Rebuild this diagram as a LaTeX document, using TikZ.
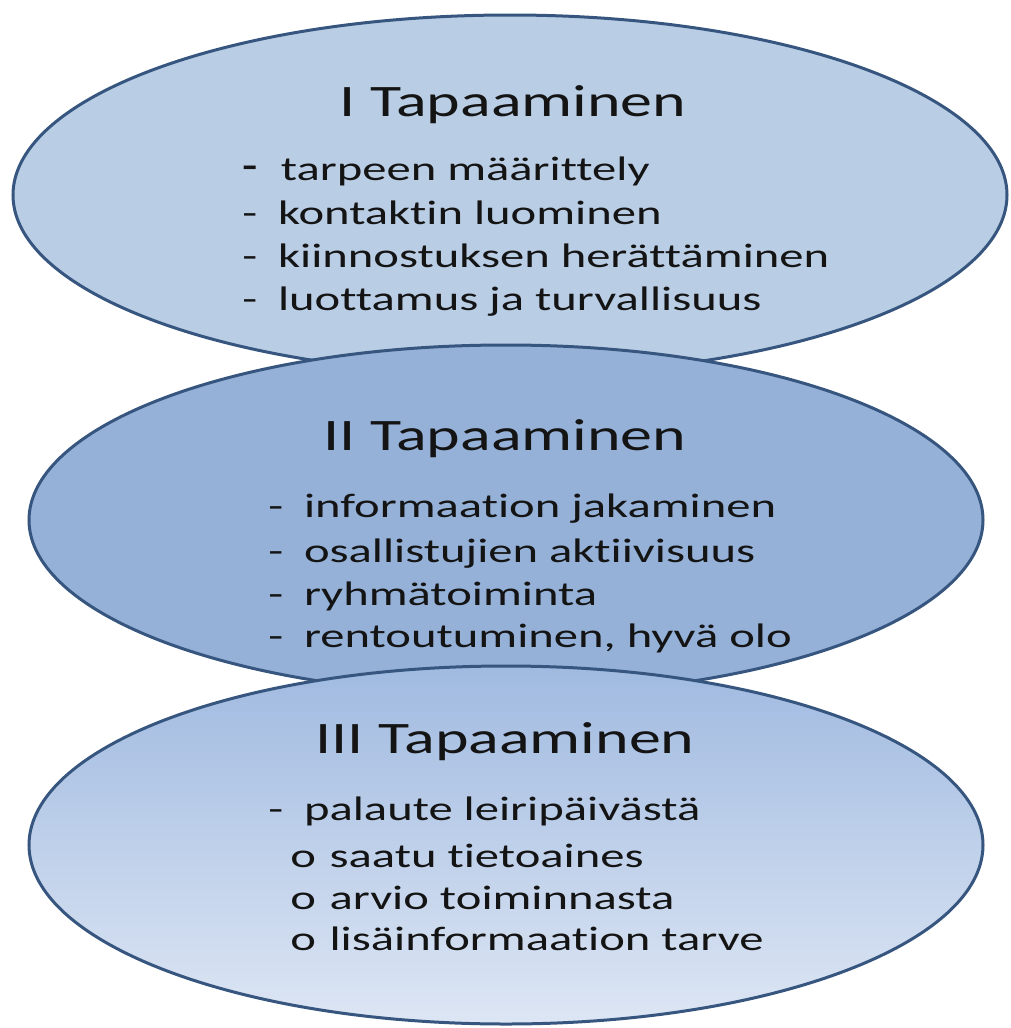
\documentclass[tikz,border=0pt]{standalone}
\usepackage{fontspec}
\setmainfont[Ligatures={NoCommon}]{Carlito}
\usetikzlibrary{shapes.geometric}

\definecolor{rimblue}{HTML}{37567F}
\definecolor{paleblue}{HTML}{B9CDE5}
\definecolor{midblue}{HTML}{95B1D8}
\definecolor{topblue}{HTML}{A0BAE0}
\definecolor{fadeblue}{HTML}{DDE6F4}
\definecolor{inkblack}{HTML}{141414}
\newcommand{\dashmark}{\makebox[25pt][l]{-}}
\newcommand{\bigdash}{\makebox[27pt][l]{\raisebox{3pt}{\bfseries -}}}
\newcommand{\ringmark}{\makebox[27.5pt][l]{o}}

\begin{document}
\begin{tikzpicture}[x=1pt,y=-1pt]
\tikzset{E/.style={ellipse,draw=rimblue,line width=3pt,inner sep=0pt},
  T/.style={font=\fontsize{45}{45}\selectfont,text=inkblack,xscale=1.42,inner sep=0pt,anchor=base},
  L/.style={font=\fontsize{34}{34}\selectfont,text=inkblack,xscale=1.43,inner sep=0pt,anchor=base west}}

  \useasboundingbox (0,0) rectangle (1011,1028);

  % the three meetings, back to front
  \node[E,fill=paleblue,minimum width=994pt,minimum height=360pt] (e1) at (510,195) {};
  \node[E,fill=midblue,minimum width=954pt,minimum height=350pt] (e2) at (506,520) {};
  \node[E,top color=topblue,bottom color=fadeblue,minimum width=954pt,minimum height=358pt] (e3) at (506,845) {};

  \node[T] (t1) at (513,116) {I Tapaaminen};
  \node[L] (a1) at (242,180) {\bigdash tarpeen määrittely};
  \node[L] (a2) at (242,224) {\dashmark kontaktin luominen};
  \node[L] (a3) at (242,267) {\dashmark kiinnostuksen herättäminen};
  \node[L] (a4) at (242,310) {\dashmark luottamus ja turvallisuus};

  \node[T] (t2) at (505,450) {II Tapaaminen};
  \node[L] (b1) at (268,517) {\dashmark informaation jakaminen};
  \node[L] (b2) at (268,562) {\dashmark osallistujien aktiivisuus};
  \node[L] (b3) at (268,605) {\dashmark ryhmätoiminta};
  \node[L] (b4) at (268,647) {\dashmark rentoutuminen, hyvä olo};

  \node[T] (t3) at (505,753) {III Tapaaminen};
  \node[L] (c1) at (268,820) {\dashmark palaute leiripäivästä};
  \node[L] (c2) at (290,867) {\ringmark saatu tietoaines};
  \node[L] (c3) at (290,909) {\ringmark arvio toiminnasta};
  \node[L] (c4) at (290,950) {\ringmark lisäinformaation tarve};
\end{tikzpicture}
\end{document}
